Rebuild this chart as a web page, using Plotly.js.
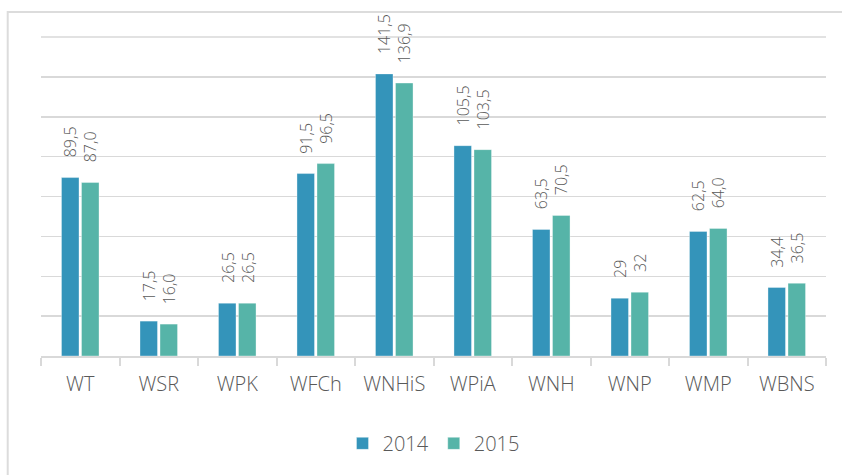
<!DOCTYPE html>
<html>
<head>
<meta charset="utf-8">
<script src="https://cdn.plot.ly/plotly-3.0.1.min.js"></script>
<style>
  html, body { margin: 0; padding: 0; background: #ffffff; }
  #chart { width: 842px; height: 475px; }
</style>
</head>
<body>
<div id="chart"></div>
<script>
const categories = ["WT", "WSR", "WPK", "WFCh", "WNHiS", "WPiA", "WNH", "WNP", "WMP", "WBNS"];
const values2014 = [89.5, 17.5, 26.5, 91.5, 141.5, 105.5, 63.5, 29, 62.5, 34.4];
const values2015 = [87.0, 16.0, 26.5, 96.5, 136.9, 103.5, 70.5, 32, 64.0, 36.5];
const labels2014 = ["89,5", "17,5", "26,5", "91,5", "141,5", "105,5", "63,5", "29", "62,5", "34,4"];
const labels2015 = ["87,0", "16,0", "26,5", "96,5", "136,9", "103,5", "70,5", "32", "64,0", "36,5"];
const seriesNames = ["2014", "2015"];
const yMax = 160;
const yStep = 20;

const colors = ["#3494BA", "#56B4A8"];
const textColor = "#595959";
const gridColor = "#d9d9d9";
const fontFamily = "'Open Sans', 'Noto Sans', sans-serif";
const fontWeight = 300;
const bargap = 0.49;
const bargroupgap = 0.125;

const series = [
  { name: seriesNames[0], y: values2014, labels: labels2014, color: colors[0] },
  { name: seriesNames[1], y: values2015, labels: labels2015, color: colors[1] }
];

const traces = series.map(s => ({
  type: "bar",
  name: s.name,
  x: categories,
  y: s.y,
  marker: { color: s.color, line: { color: "rgba(255,255,255,0.35)", width: 1 } },
  hoverinfo: "x+y+name"
}));

// value labels above bars (rotated), positioned via the axis scales
const slot = (1 - bargap) / series.length;
const annotations = [];
series.forEach((s, si) => {
  const offset = (si - (series.length - 1) / 2) * slot;
  s.y.forEach((v, i) => {
    annotations.push({
      x: i + offset,
      y: v,
      xref: "x",
      yref: "y",
      text: s.labels[i],
      textangle: -90,
      showarrow: false,
      xanchor: "center",
      yanchor: "bottom",
      yshift: 18,
      font: { family: fontFamily, size: 16, color: textColor, weight: fontWeight }
    });
  });
});

const layout = {
  width: 842,
  height: 475,
  margin: { l: 41, r: 16, t: 36, b: 119 },
  paper_bgcolor: "#ffffff",
  plot_bgcolor: "#ffffff",
  barmode: "group",
  bargap: bargap,
  bargroupgap: bargroupgap,
  showlegend: true,
  legend: {
    orientation: "h",
    x: 0.5,
    xanchor: "center",
    y: -0.273,
    yanchor: "middle",
    font: { family: fontFamily, size: 20, color: textColor, weight: fontWeight },
    itemwidth: 30,
    traceorder: "normal"
  },
  xaxis: {
    type: "category",
    tickson: "boundaries",
    ticks: "outside",
    ticklen: 8,
    tickwidth: 2,
    tickcolor: gridColor,
    showline: true,
    linecolor: gridColor,
    linewidth: 2,
    showgrid: false,
    ticklabelstandoff: 9,
    tickfont: { family: fontFamily, size: 20, color: textColor, weight: fontWeight },
    fixedrange: true
  },
  yaxis: {
    range: [0, yMax + 0.5],
    dtick: yStep,
    showticklabels: false,
    showgrid: true,
    gridcolor: gridColor,
    gridwidth: 1.5,
    zeroline: false,
    showline: false,
    fixedrange: true
  },
  shapes: [{
    type: "rect",
    xref: "paper",
    yref: "paper",
    x0: (7.7 - 41) / 785,
    x1: 1.06,
    y0: -0.6,
    y1: (356 - 12) / 320,
    line: { color: "#dcdcdc", width: 2 },
    fillcolor: "rgba(0,0,0,0)",
    layer: "below"
  }, {
    type: "line",
    xref: "paper",
    yref: "y",
    x0: 0,
    x1: 1,
    y0: yMax,
    y1: yMax,
    line: { color: gridColor, width: 1.5 },
    layer: "below"
  }],
  annotations: annotations,
  font: { family: fontFamily, color: textColor }
};

Plotly.newPlot("chart", traces, layout, { displayModeBar: false, staticPlot: true });
</script>
</body>
</html>
